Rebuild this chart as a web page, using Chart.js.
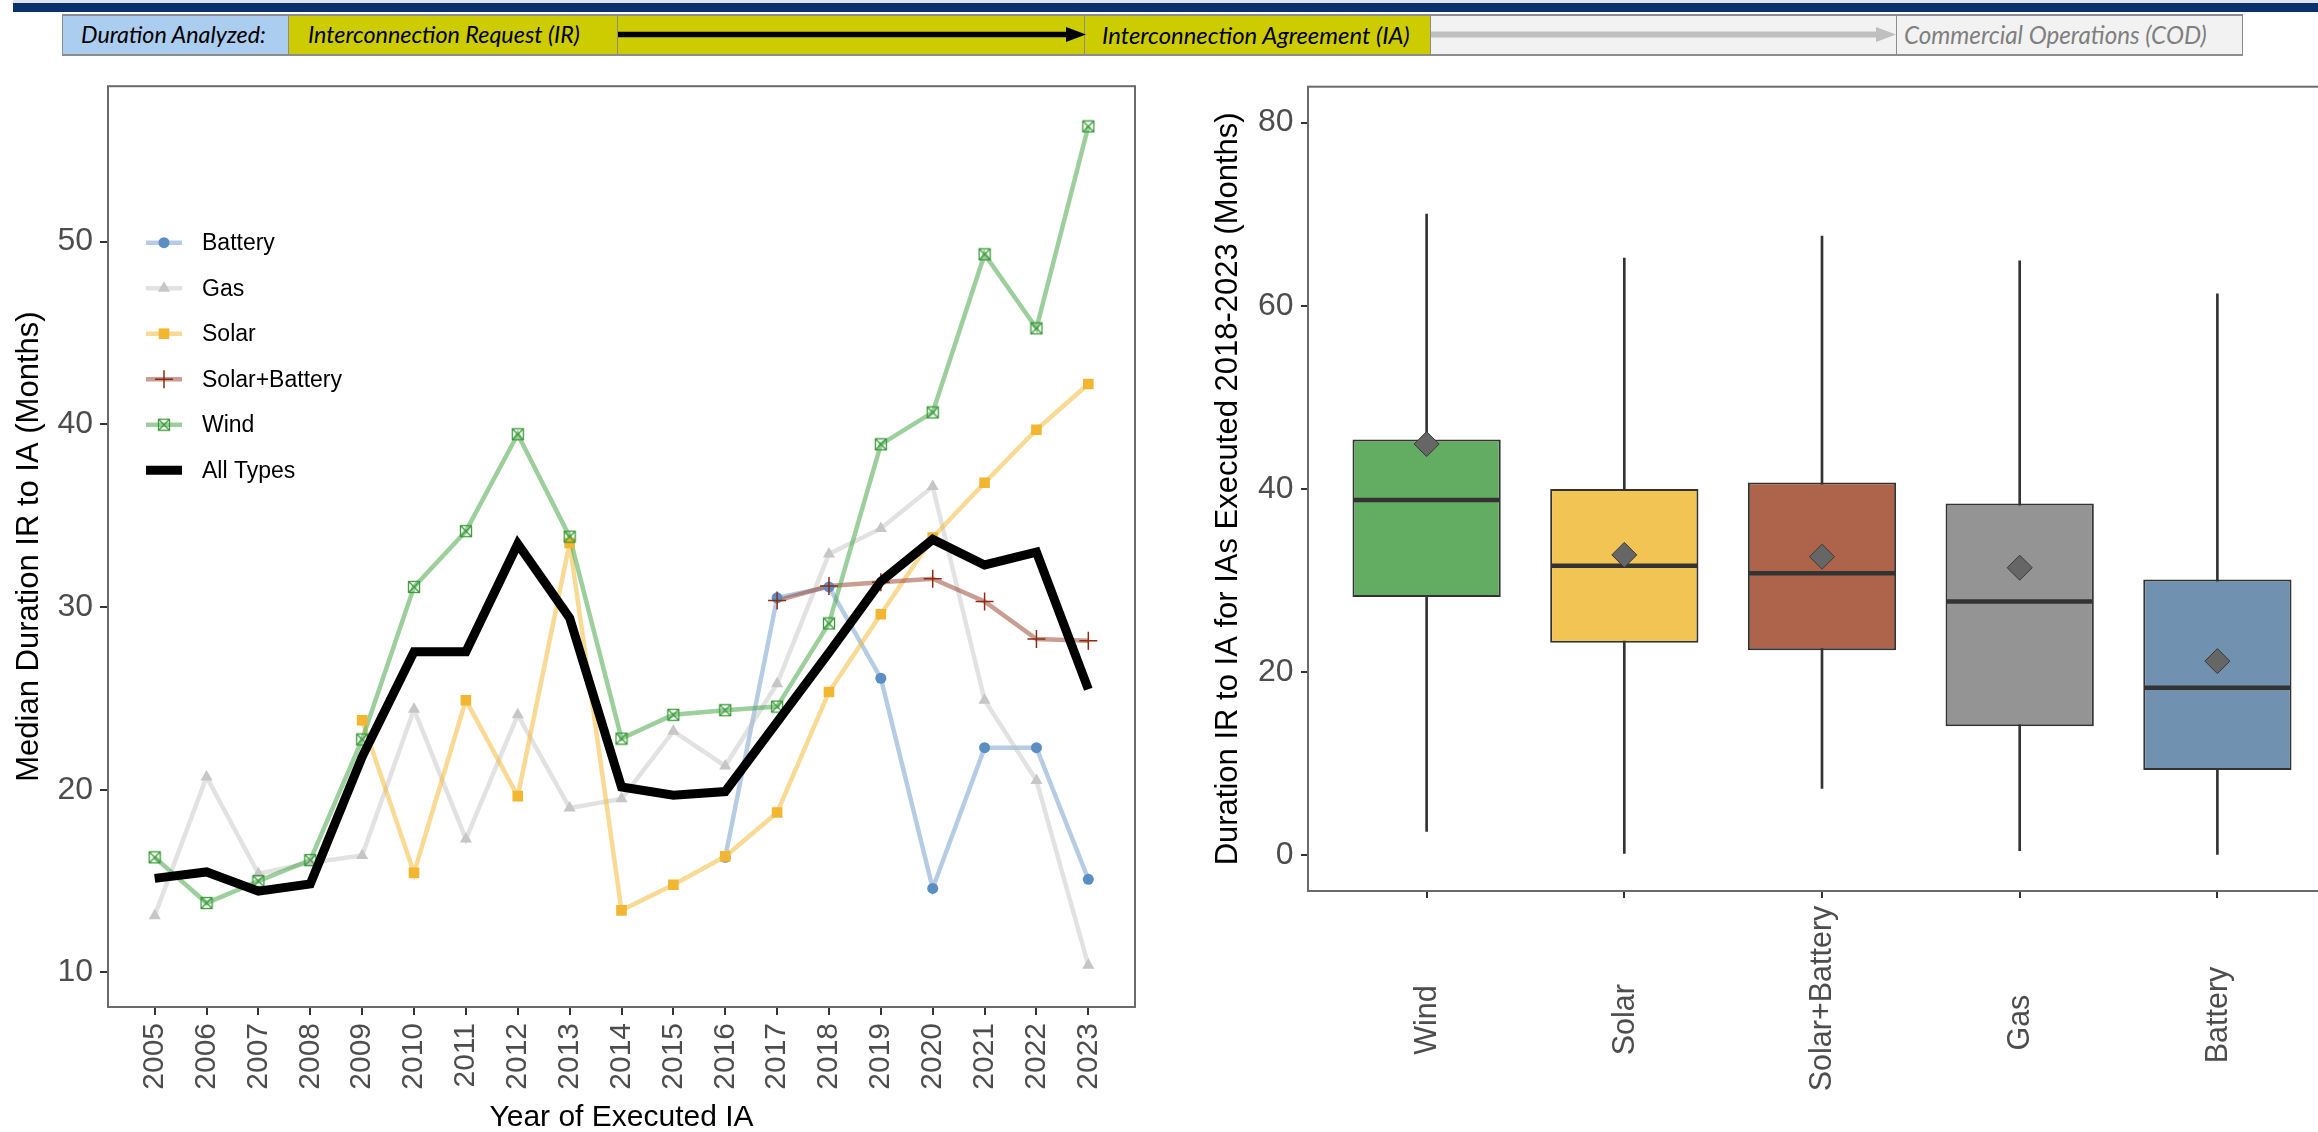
<!DOCTYPE html>
<html>
<head>
<meta charset="utf-8">
<script src="https://cdn.jsdelivr.net/npm/chart.js@4.4.1/dist/chart.umd.min.js"></script>
<style>
  html, body { margin: 0; padding: 0; background: #fff; width: 2318px; height: 1132px; overflow: hidden; }
  #topline { position: absolute; left: 13px; top: 0; width: 2305px; height: 3px; background: #dbe4ef; }
  #topbar { position: absolute; left: 13px; top: 3px; width: 2305px; height: 9px; background: #0a316b; }
  .cell { position: absolute; top: 14px; height: 42px; box-sizing: border-box;
          border-top: 2px solid #8c8c8c; border-bottom: 2px solid #8c8c8c; border-left: 1px solid #8c8c8c; }
  .lbl { position: absolute; top: 50%; transform: translateY(-52%); font-family: Lato, 'Open Sans', sans-serif;
         font-style: italic; font-size: 23px; white-space: nowrap; color: #000; }
  #arrows { position: absolute; left: 0; top: 0; }
  canvas { position: absolute; top: 60px; }
</style>
</head>
<body>
<div id="topline"></div>
<div id="topbar"></div>

<div class="cell" style="left:62px;width:226px;background:#abcdef"><span class="lbl" data-w="185" style="left:18px">Duration Analyzed:</span></div>
<div class="cell" style="left:288px;width:329px;background:#cccc00"><span class="lbl" data-w="272" style="left:19px">Interconnection Request (IR)</span></div>
<div class="cell" style="left:617px;width:467px;background:#cccc00"></div>
<div class="cell" style="left:1084px;width:346px;background:#cccc00"><span class="lbl" data-w="308" style="left:17px">Interconnection Agreement (IA)</span></div>
<div class="cell" style="left:1430px;width:466px;background:#f2f2f2"></div>
<div class="cell" style="left:1896px;width:347px;background:#f2f2f2;border-right:1px solid #8c8c8c"><span class="lbl" data-w="303" style="left:7px;color:#7f7f7f">Commercial Operations (COD)</span></div>

<svg id="arrows" width="2318" height="60">
  <line x1="618" y1="34.5" x2="1068" y2="34.5" stroke="#000" stroke-width="5.5"/>
  <polygon points="1066,27 1086,34.5 1066,42" fill="#000"/>
  <line x1="1431" y1="34.5" x2="1878" y2="34.5" stroke="#bfbfbf" stroke-width="6"/>
  <polygon points="1876,27 1896,34.5 1876,42" fill="#bfbfbf"/>
</svg>

<canvas id="lineChart" width="1160" height="1078" style="left:0"></canvas>
<canvas id="boxChart" width="1190" height="1078" style="left:1160px"></canvas>

<script>
// fit header label widths to the reference
document.querySelectorAll('.lbl').forEach(el => {
    const target = +el.dataset.w;
    const w = el.getBoundingClientRect().width;
    el.style.fontSize = (23 * target / w) + 'px';
});

Chart.defaults.font.family = "'Liberation Sans', Arial, sans-serif";
Chart.defaults.color = '#4d4d4d';

// ---- left chart data: median duration by year of executed IA ----
const years = [2005, 2006, 2007, 2008, 2009, 2010, 2011, 2012, 2013, 2014,
               2015, 2016, 2017, 2018, 2019, 2020, 2021, 2022, 2023];
const battery = [null, null, null, null, null, null, null, null, null, null,
                 null, 16.3, 30.5, 31.1, 26.1, 14.6, 22.3, 22.3, 15.1];
const gas = [13.1, 20.7, 15.4, 16.0, 16.4, 24.4, 17.3, 24.1, 19.0, 19.5,
             23.2, 21.3, 25.8, 32.9, 34.3, 36.6, 24.9, 20.5, 10.4];
const solar = [null, null, null, null, 23.8, 15.45, 24.9, 19.65, 33.5, 13.4,
               14.8, 16.35, 18.75, 25.35, 29.6, 33.8, 36.8, 39.7, 42.2];
const solarBattery = [null, null, null, null, null, null, null, null, null, null,
                      null, null, 30.35, 31.15, 31.35, 31.55, 30.3, 28.25, 28.15];
const wind = [16.3, 13.8, 15.0, 16.15, 22.75, 31.1, 34.15, 39.45, 33.85, 22.8,
              24.1, 24.35, 24.55, 29.1, 38.9, 40.65, 49.3, 45.25, 56.3];
const allTypes = [15.15, 15.5, 14.45, 14.85, 21.8, 27.55, 27.55, 33.45, 29.4, 20.15,
                  19.7, 19.9, 23.7, 27.5, 31.4, 33.7, 32.3, 33.0, 25.5];
const leftYTicks = [10, 20, 30, 40, 50];

// ---- right chart data: box plot of IAs executed 2018-2023 ----
const boxCategories = ['Wind', 'Solar', 'Solar+Battery', 'Gas', 'Battery'];
const whiskerLow = [2.6, 0.2, 7.3, 0.5, 0.1];
const q1 = [28.2, 23.2, 22.4, 14.1, 9.3];
const median = [38.8, 31.6, 30.8, 27.7, 18.3];
const q3 = [45.4, 40.0, 40.7, 38.4, 30.1];
const whiskerHigh = [70.0, 65.2, 67.6, 64.9, 61.3];
const mean = [44.9, 32.8, 32.6, 31.4, 21.2];
const rightYTicks = [0, 20, 40, 60, 80];

function windMarker() {
    const c = document.createElement('canvas');
    c.width = 14; c.height = 14;
    const g = c.getContext('2d');
    g.strokeStyle = '#3a9a3a';
    g.lineWidth = 1.3;
    g.strokeRect(1.5, 1.5, 11, 11);
    g.beginPath();
    g.moveTo(1.5, 1.5); g.lineTo(12.5, 12.5);
    g.moveTo(12.5, 1.5); g.lineTo(1.5, 12.5);
    g.stroke();
    return c;
}

const series = [
    { name: 'Battery', values: battery, line: 'rgba(91,143,194,0.45)',
      point: { pointStyle: 'circle', pointRadius: 5.5, pointBackgroundColor: '#5b8fc3', pointBorderWidth: 0 } },
    { name: 'Gas', values: gas, line: 'rgba(190,190,190,0.45)',
      point: { pointStyle: 'triangle', pointRadius: 7, pointBackgroundColor: '#c6c6c6', pointBorderWidth: 0 } },
    { name: 'Solar', values: solar, line: 'rgba(242,181,43,0.5)',
      point: { pointStyle: 'rect', pointRadius: 7.5, pointBackgroundColor: '#f2b630', pointBorderWidth: 0 } },
    { name: 'Solar+Battery', values: solarBattery, line: 'rgba(150,60,40,0.5)',
      point: { pointStyle: 'cross', pointRadius: 9, pointBackgroundColor: 'rgba(0,0,0,0)', pointBorderColor: '#8e2a12', pointBorderWidth: 1.5 } },
    { name: 'Wind', values: wind, line: 'rgba(60,160,60,0.5)',
      point: { pointStyle: windMarker(), pointRadius: 7, pointBorderWidth: 0 } }
];

const toPoints = vals => years.map((yr, i) => ({ x: yr, y: vals[i] }));

const lineDatasets = [];
series.forEach((s, i) => {
    lineDatasets.push({
        label: s.name, data: toPoints(s.values), borderColor: s.line, borderWidth: 4.5,
        pointRadius: 0, tension: 0, order: 20 - i
    });
    lineDatasets.push(Object.assign({
        label: s.name + ' points', data: toPoints(s.values), showLine: false, order: 10 - i
    }, s.point));
});
lineDatasets.push({
    label: 'All Types', data: toPoints(allTypes), borderColor: '#000', borderWidth: 9,
    pointRadius: 0, tension: 0, order: 0
});

function drawMarker(ctx, p, x, y) {
    ctx.save();
    const r = p.pointRadius;
    ctx.fillStyle = p.pointBackgroundColor || 'rgba(0,0,0,0)';
    ctx.strokeStyle = p.pointBorderColor || 'rgba(0,0,0,0)';
    ctx.lineWidth = p.pointBorderWidth || 0;
    const st = p.pointStyle;
    if (typeof st !== 'string') {
        ctx.drawImage(st, x - st.width / 2, y - st.height / 2);
    } else if (st === 'circle') {
        ctx.beginPath(); ctx.arc(x, y, r, 0, Math.PI * 2); ctx.fill();
    } else if (st === 'triangle') {
        ctx.beginPath();
        ctx.moveTo(x, y - r);
        ctx.lineTo(x + r * Math.sin(2 * Math.PI / 3), y - r * Math.cos(2 * Math.PI / 3));
        ctx.lineTo(x + r * Math.sin(4 * Math.PI / 3), y - r * Math.cos(4 * Math.PI / 3));
        ctx.closePath(); ctx.fill();
    } else if (st === 'rect') {
        const h = r * Math.SQRT1_2;
        ctx.fillRect(x - h, y - h, 2 * h, 2 * h);
    } else if (st === 'cross') {
        ctx.beginPath();
        ctx.moveTo(x, y - r); ctx.lineTo(x, y + r);
        ctx.moveTo(x - r, y); ctx.lineTo(x + r, y);
        ctx.stroke();
    }
    ctx.restore();
}

const legendPlugin = {
    id: 'insideLegend',
    afterDraw(chart) {
        const { ctx, chartArea } = chart;
        const rows = series.concat([{ name: 'All Types', line: '#000', width: 9 }]);
        ctx.save();
        ctx.font = "23px 'Liberation Sans', Arial, sans-serif";
        ctx.textBaseline = 'middle';
        rows.forEach((s, i) => {
            const y = chartArea.top + 156.5 + i * 45.5;
            const x0 = chartArea.left + 38;
            ctx.strokeStyle = s.line;
            ctx.lineWidth = s.width || 4.5;
            ctx.beginPath(); ctx.moveTo(x0, y); ctx.lineTo(x0 + 36, y); ctx.stroke();
            if (s.point) drawMarker(ctx, s.point, x0 + 18, y);
            ctx.fillStyle = '#000';
            ctx.fillText(s.name, chartArea.left + 94, y + 1);
        });
        ctx.restore();
    }
};

const borderPlugin = {
    id: 'panelBorder',
    afterDraw(chart) {
        const { ctx, chartArea: a } = chart;
        ctx.save();
        ctx.strokeStyle = '#6b6b6b';
        ctx.lineWidth = 2;
        ctx.strokeRect(a.left, a.top, a.right - a.left, a.bottom - a.top);
        ctx.restore();
    }
};

new Chart(document.getElementById('lineChart'), {
    type: 'line',
    data: { datasets: lineDatasets },
    options: {
        responsive: false,
        animation: false,
        layout: { padding: { top: 23, right: 25, bottom: 0, left: 0 } },
        plugins: { legend: { display: false }, tooltip: { enabled: false } },
        scales: {
            x: {
                type: 'linear', min: 2004.1, max: 2023.9,
                afterBuildTicks: s => { s.ticks = years.map(v => ({ value: v })); },
                afterFit: s => { s.height = 131; },
                ticks: { autoSkip: false, minRotation: 90, maxRotation: 90, padding: 8,
                         font: { size: 30 }, color: '#4d4d4d', callback: v => String(v) },
                grid: { drawOnChartArea: false, tickLength: 8, color: '#333', lineWidth: 2 },
                border: { display: false },
                title: { display: true, text: 'Year of Executed IA', color: '#000',
                         font: { size: 30 }, padding: { top: 0, bottom: 2 } }
            },
            y: {
                min: 8.11, max: 58.5,
                afterBuildTicks: s => { s.ticks = leftYTicks.map(v => ({ value: v })); },
                afterFit: s => { s.width = 108; },
                ticks: { padding: 7, font: { size: 32 }, color: '#4d4d4d' },
                grid: { drawOnChartArea: false, tickLength: 8, color: '#333', lineWidth: 2 },
                border: { display: false },
                title: { display: true, text: 'Median Duration IR to IA (Months)', color: '#000',
                         font: { size: 31 }, padding: { top: 10.4, bottom: 0 } }
            }
        }
    },
    plugins: [legendPlugin, borderPlugin]
});

// ---- box plot ----
const boxColors = ['#63ad62', '#f2c453', '#ae644a', '#949494', '#7091b0'];

const medianPlugin = {
    id: 'medianLines',
    afterDatasetDraw(chart, args) {
        if (args.meta.label !== 'boxes') return;
        const { ctx } = chart;
        const y = chart.scales.y;
        ctx.save();
        ctx.strokeStyle = '#333';
        ctx.lineWidth = 4.5;
        args.meta.data.forEach((bar, i) => {
            const py = y.getPixelForValue(median[i]);
            ctx.beginPath();
            ctx.moveTo(bar.x - bar.width / 2 + 1, py);
            ctx.lineTo(bar.x + bar.width / 2 - 1, py);
            ctx.stroke();
        });
        ctx.restore();
    }
};

const categoryLabelPlugin = {
    id: 'categoryLabels',
    afterDraw(chart) {
        const { ctx, chartArea } = chart;
        const x = chart.scales.x;
        ctx.save();
        ctx.font = "30.5px 'Liberation Sans', Arial, sans-serif";
        ctx.fillStyle = '#4d4d4d';
        ctx.textAlign = 'left';
        ctx.textBaseline = 'middle';
        boxCategories.forEach((name, i) => {
            const px = x.getPixelForValue(i + 1);
            const len = ctx.measureText(name).width;
            ctx.save();
            ctx.translate(px + 1, chartArea.bottom + 142 + 0.314 * len);
            ctx.rotate(-Math.PI / 2);
            ctx.fillText(name, 0, 0);
            ctx.restore();
        });
        ctx.restore();
    }
};

new Chart(document.getElementById('boxChart'), {
    type: 'bar',
    data: {
        datasets: [
            {
                label: 'whiskers',
                data: boxCategories.map((c, i) => ({ x: i + 1, y: [whiskerLow[i], whiskerHigh[i]] })),
                backgroundColor: '#333', borderWidth: 0, barThickness: 2,
                grouped: false, order: 3
            },
            {
                label: 'boxes',
                data: boxCategories.map((c, i) => ({ x: i + 1, y: [q1[i], q3[i]] })),
                backgroundColor: boxColors, borderColor: '#333', borderWidth: 2, borderSkipped: false,
                categoryPercentage: 1, barPercentage: 0.75, grouped: false, order: 2
            },
            {
                type: 'scatter',
                label: 'mean',
                data: boxCategories.map((c, i) => ({ x: i + 1, y: mean[i] })),
                pointStyle: 'rectRot', pointRadius: 12.5,
                backgroundColor: '#666', borderColor: '#3a3a3a', borderWidth: 1, order: 1
            }
        ]
    },
    options: {
        responsive: false,
        animation: false,
        layout: { padding: { top: 23, right: 14, bottom: 0, left: 0 } },
        plugins: { legend: { display: false }, tooltip: { enabled: false } },
        scales: {
            x: {
                type: 'linear', min: 0.4, max: 5.6, offset: false,
                afterBuildTicks: s => { s.ticks = boxCategories.map((c, i) => ({ value: i + 1 })); },
                afterFit: s => { s.height = 247; },
                ticks: { display: false },
                grid: { offset: false, drawOnChartArea: false, tickLength: 7, color: '#333', lineWidth: 2 },
                border: { display: false }
            },
            y: {
                min: -3.9, max: 83.92,
                afterBuildTicks: s => { s.ticks = rightYTicks.map(v => ({ value: v })); },
                afterFit: s => { s.width = 148; },
                ticks: { padding: 7.5, font: { size: 32 }, color: '#4d4d4d' },
                grid: { drawOnChartArea: false, tickLength: 7, color: '#333', lineWidth: 2 },
                border: { display: false },
                title: { display: true, text: 'Duration IR to IA for IAs Executed 2018-2023 (Months)',
                         color: '#000', font: { size: 31 }, padding: { top: 50, bottom: 0 } }
            }
        }
    },
    plugins: [medianPlugin, categoryLabelPlugin, borderPlugin]
});
</script>
</body>
</html>
